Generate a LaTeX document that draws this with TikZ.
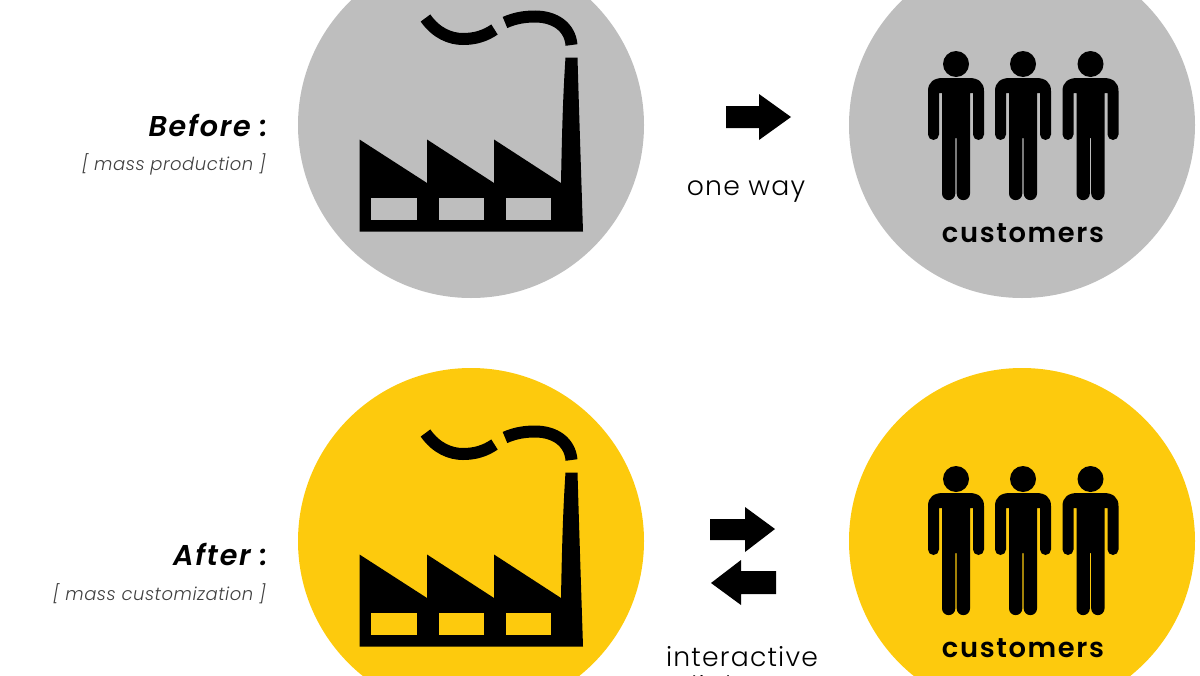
\documentclass[tikz,border=0pt]{standalone}
\usepackage{fontspec}
\setmainfont{Poppins}[UprightFont=* Light,ItalicFont=* Light Italic,BoldFont=* SemiBold,BoldItalicFont=* SemiBold Italic]
\usepackage{tikz}
\definecolor{greyfill}{RGB}{190,190,190}
\definecolor{yellowfill}{RGB}{253,202,13}
\tikzset{
  disc/.style={circle,inner sep=0pt,minimum size=#1*0.75pt},
  headline/.style={font=\fontsize{21.5}{21.5}\selectfont\itshape\bfseries\addfontfeature{LetterSpace=6},anchor=base east,inner sep=0pt},
  subline/.style={font=\fontsize{13.5}{13.5}\selectfont\itshape\addfontfeature{LetterSpace=2.8},anchor=base east,inner sep=0pt,text=black!75},
  caption/.style={font=\fontsize{20}{20}\selectfont\addfontfeature{LetterSpace=4.5},anchor=base,inner sep=0pt},
  crowd/.style={font=\fontsize{20.5}{20.5}\selectfont\bfseries\addfontfeature{LetterSpace=6},anchor=base,inner sep=0pt},
  smokeline/.style={line width=9pt},
}
% factory drawn in the picture's own coordinates, #1 is the window colour
\newcommand{\factory}[1]{%
  \fill (359.5,139.5) -- (427,183) -- (427,139.5) -- (494,183) -- (494,139.5) -- (561,183)
    .. controls (562,130) and (563,95) .. (565.5,57.5) -- (577.5,57.5)
    .. controls (579,110) and (581,170) .. (583,231.5) -- (359.5,231.5) -- cycle;
  \foreach \winx in {371,438.5,505.5}
    \fill[#1] (\winx,197.5) rectangle ++(45.5,22.5);
  \draw[smokeline] (425.5,18) .. controls (436,33) and (450,39) .. (463,39)
    .. controls (475,39) and (485,36) .. (494.5,29.5);
  \draw[smokeline] (505,22.5) .. controls (515,18) and (525,16.5) .. (535,16.5)
    .. controls (555,16.5) and (570,27) .. (571.5,45);
}
% one person, (0,0) is the top of the head on the axis of the body
\newcommand{\person}{%
  \fill (0,13) circle (13);
  \fill (-13,27) -- (13,27) .. controls (22,27) and (28,31) .. (28,40)
    -- (28,83.5) arc (0:180:5.5) -- (17,42) -- (14,42)
    -- (14,142.5) arc (0:180:6.65) -- (0.7,87) -- (-0.7,87) -- (-0.7,142.5) arc (0:180:6.65)
    -- (-14,42) -- (-17,42) -- (-17,83.5) arc (0:180:5.5)
    -- (-28,40) .. controls (-28,31) and (-22,27) .. (-13,27) -- cycle;
}
\begin{document}
\begin{tikzpicture}[x=0.75pt,y=0.75pt,yscale=-1,xscale=1]
\useasboundingbox (0,0) rectangle (1200,675);
\clip (0,0) rectangle (1200,675);

% discs
\node[disc=346,fill=greyfill] (factoryBefore) at (471,125) {};
\node[disc=346,fill=greyfill] (customersBefore) at (1022,125) {};
\node[disc=346,fill=yellowfill] (factoryAfter) at (471,541) {};
\node[disc=346,fill=yellowfill] (customersAfter) at (1022,541) {};

% factories
\factory{greyfill}
\begin{scope}[shift={(0,415)}]
\factory{yellowfill}
\end{scope}

% people
\foreach \perx/\pery in {956/51,1023/51,1090.5/51,956/466,1023/466,1090.5/466}{
  \begin{scope}[shift={(\perx,\pery)}]
  \person
  \end{scope}
}

% arrows
\fill (726,106) -- (759,106) -- (759,94) -- (791,117) -- (759,140) -- (759,128) -- (726,128) -- cycle;
\fill (710,519) -- (745,519) -- (745,507) -- (775,529) -- (745,552) -- (745,540) -- (710,540) -- cycle;
\fill (776,571) -- (741,571) -- (741,560) -- (711,583) -- (741,605) -- (741,594) -- (776,594) -- cycle;

% Text Node
\node[headline] (beforeLabel) at (268,136) {Before :};
\node[subline] (beforeSub) at (266,170) {[ mass production ]};
\node[headline] (afterLabel) at (268,565) {After :};
\node[subline] (afterSub) at (266,600) {[ mass customization ]};
\node[caption] (oneWay) at (746,195) {one way};
\node[caption] (interactive) at (742,666) {interactive};
\node[caption] (dialogue) at (742,695) {dialogue};
\node[crowd] (crowdBefore) at (1023,242) {customers};
\node[crowd] (crowdAfter) at (1023,657) {customers};
\end{tikzpicture}
\end{document}
